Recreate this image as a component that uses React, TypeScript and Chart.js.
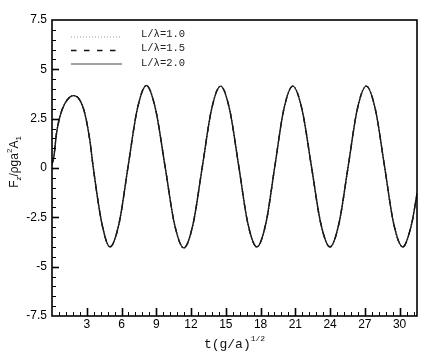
import React, { useEffect, useRef } from 'react';
import { Chart, registerables } from 'chart.js';
Chart.register(...registerables);

// time t(g/a)^{1/2}
const T_VALUES = [
  0.0, 0.16, 0.39, 0.68, 1.11, 1.85, 2.4, 2.83, 3.26, 3.55, 4.3, 5.0,
  5.79, 6.57, 7.36, 8.15, 8.94, 9.76, 10.57, 11.38,
  12.17, 12.97, 13.76, 14.55, 15.33, 16.12, 16.9, 17.68,
  18.46, 19.23, 20.0, 20.78, 21.58, 22.39, 23.19, 23.99,
  24.77, 25.56, 26.34, 27.12, 27.91, 28.7, 29.48, 30.27,
  31.05, 31.5,
];
// F_z / (rho g a^2 A_1)
const F_VALUES = [
  0.2, 0.57, 1.76, 2.6, 3.27, 3.67, 3.44, 2.77, 1.42, 0.07, -2.8, -4.0,
  -2.8, 0.09, 2.98, 4.18, 2.97, 0.07, -2.84, -4.05,
  -2.85, 0.05, 2.95, 4.15, 2.96, 0.08, -2.8, -4.0,
  -2.8, 0.08, 2.96, 4.15, 2.96, 0.08, -2.8, -4.0,
  -2.8, 0.08, 2.96, 4.15, 2.96, 0.08, -2.8, -4.0,
  -2.8, -1.29,
];
const SERIES_LABELS = ['L/\u03bb=1.0', 'L/\u03bb=1.5', 'L/\u03bb=2.0'];
const X_TICKS = [3, 6, 9, 12, 15, 18, 21, 24, 27, 30];
const Y_TICKS = [-7.5, -5, -2.5, 0, 2.5, 5, 7.5];
const X_MIN = 0, X_MAX = 31.5, Y_MIN = -7.5, Y_MAX = 7.5;
const X_MINOR_STEP = 0.6, Y_MINOR_STEP = 0.5;

type Seg = { t: string; font: string; dy: number };

function drawSegs(ctx: CanvasRenderingContext2D, segs: Seg[], cx: number, cy: number) {
  let total = 0;
  for (const s of segs) { ctx.font = s.font; total += ctx.measureText(s.t).width; }
  let x = cx - total / 2;
  ctx.textAlign = 'left';
  ctx.textBaseline = 'alphabetic';
  for (const s of segs) {
    ctx.font = s.font;
    ctx.fillText(s.t, x, cy + s.dy);
    x += ctx.measureText(s.t).width;
  }
}

const decorPlugin = {
  id: 'decor',
  afterDraw(chart: any) {
    const { ctx, chartArea: a, scales } = chart;
    const xs = scales.x, ys = scales.y;
    ctx.save();
    ctx.strokeStyle = '#000';
    // x ticks (inward)
    const nx = Math.round((X_MAX - X_MIN) / X_MINOR_STEP);
    for (let i = 1; i <= nx; i++) {
      const v = X_MIN + i * X_MINOR_STEP;
      if (v >= X_MAX - 1e-6) break;
      const major = Math.abs(v / 3 - Math.round(v / 3)) < 1e-6;
      const px = Math.round(xs.getPixelForValue(v)) + 0.5;
      ctx.lineWidth = major ? 1.6 : 1;
      ctx.beginPath();
      ctx.moveTo(px, a.bottom);
      ctx.lineTo(px, a.bottom - (major ? 8 : 4));
      ctx.stroke();
    }
    const ny = Math.round((Y_MAX - Y_MIN) / Y_MINOR_STEP);
    for (let i = 1; i < ny; i++) {
      const v = Y_MIN + i * Y_MINOR_STEP;
      const major = Math.abs(v / 2.5 - Math.round(v / 2.5)) < 1e-6;
      const py = Math.round(ys.getPixelForValue(v)) + 0.5;
      ctx.lineWidth = major ? 1.6 : 1;
      ctx.beginPath();
      ctx.moveTo(a.left, py);
      ctx.lineTo(a.left + (major ? 7 : 4), py);
      ctx.stroke();
    }
    // frame
    ctx.lineWidth = 1.6;
    ctx.strokeRect(a.left, a.top, a.right - a.left, a.bottom - a.top);

    // legend
    const ds = chart.data.datasets;
    const legendRows = [
      { ly: a.top + 17, ty: a.top + 14.5 },
      { ly: a.top + 30.5, ty: a.top + 28 },
      { ly: a.top + 44, ty: a.top + 43 },
    ];
    ds.forEach((d: any, i: number) => {
      const r = legendRows[i];
      ctx.save();
      ctx.strokeStyle = d.legendColor;
      ctx.lineWidth = d.legendWidth;
      ctx.setLineDash(d.borderDash || []);
      ctx.beginPath();
      ctx.moveTo(a.left + 19, r.ly);
      ctx.lineTo(a.left + 70, r.ly);
      ctx.stroke();
      ctx.restore();
      ctx.fillStyle = '#222';
      ctx.font = '10.5px "Liberation Mono", monospace';
      ctx.textAlign = 'left';
      ctx.textBaseline = 'middle';
      ctx.fillText(d.label, a.left + 89, r.ty);
    });

    // axis titles
    ctx.fillStyle = '#111';
    const cx = (a.left + a.right) / 2;
    drawSegs(ctx, [
      { t: 't(g/a)', font: '13px "Liberation Mono", monospace', dy: 0 },
      { t: '1/2', font: '8px "Liberation Mono", monospace', dy: -7 },
    ], cx, 348);

    ctx.save();
    ctx.translate(18, (a.top + a.bottom) / 2 - 6);
    ctx.rotate(-Math.PI / 2);
    const f = '"Liberation Sans", Arial, sans-serif';
    drawSegs(ctx, [
      { t: 'F', font: `12px ${f}`, dy: 0 },
      { t: 'z', font: `8px ${f}`, dy: 3 },
      { t: '/\u03c1ga', font: `12px ${f}`, dy: 0 },
      { t: '2', font: `8px ${f}`, dy: -6 },
      { t: 'A', font: `12px ${f}`, dy: 0 },
      { t: '1', font: `8px ${f}`, dy: 3 },
    ], 0, 0);
    ctx.restore();
    ctx.restore();
  },
};

export default function App() {
  const ref = useRef<HTMLCanvasElement | null>(null);
  useEffect(() => {
    document.body.style.margin = '0';
    const points = T_VALUES.map((t, i) => ({ x: t, y: F_VALUES[i] }));
    const tickFont = { family: '"Liberation Sans", Arial, sans-serif', size: 12 };
    const chart = new Chart(ref.current as HTMLCanvasElement, {
      type: 'line',
      data: {
        datasets: [
          { label: SERIES_LABELS[0], data: points, borderColor: '#1a1a1a', borderWidth: 1.4, borderDash: [1, 2], order: 2, legendColor: '#999', legendWidth: 1 } as any,
          { label: SERIES_LABELS[1], data: points, borderColor: '#1a1a1a', borderWidth: 1.4, borderDash: [5.5, 7.5], order: 1, legendColor: '#111', legendWidth: 1.5 } as any,
          { label: SERIES_LABELS[2], data: points, borderColor: '#1a1a1a', borderWidth: 1.4, order: 0, legendColor: '#444', legendWidth: 1 } as any,
        ],
      },
      options: {
        animation: false,
        responsive: false,
        devicePixelRatio: 1,
        layout: { padding: { top: 20, right: 9, left: 0, bottom: 0 } },
        elements: { point: { radius: 0 }, line: { cubicInterpolationMode: 'monotone', fill: false } },
        plugins: { legend: { display: false }, tooltip: { enabled: false } },
        scales: {
          x: {
            type: 'linear', min: X_MIN, max: X_MAX,
            grid: { display: false, drawTicks: false },
            border: { display: false },
            afterBuildTicks: (s: any) => { s.ticks = X_TICKS.map((v) => ({ value: v })); },
            afterFit: (s: any) => { s.height = 41; },
            ticks: { font: tickFont, color: '#000', padding: 1, maxRotation: 0, autoSkip: false },
          },
          y: {
            type: 'linear', min: Y_MIN, max: Y_MAX,
            grid: { display: false, drawTicks: false },
            border: { display: false },
            afterBuildTicks: (s: any) => { s.ticks = Y_TICKS.map((v) => ({ value: v })); },
            afterFit: (s: any) => { s.width = 52; },
            ticks: { font: tickFont, color: '#000', padding: 5, autoSkip: false },
          },
        },
      } as any,
      plugins: [decorPlugin],
    });
    return () => chart.destroy();
  }, []);
  return <canvas ref={ref} width={426} height={357} style={{ display: 'block' }} />;
}
